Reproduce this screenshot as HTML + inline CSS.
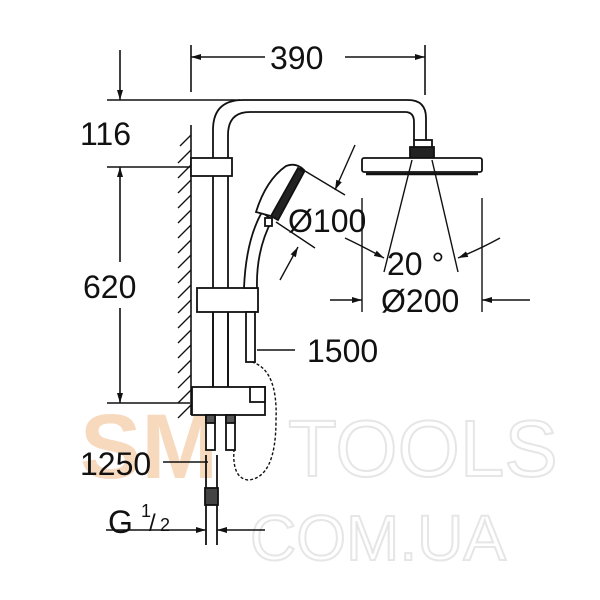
<!DOCTYPE html>
<html><head><meta charset="utf-8"><style>
html,body{margin:0;padding:0;background:#fff;width:600px;height:600px;overflow:hidden}
text{font-family:"Liberation Sans",sans-serif;fill:#111}
</style></head><body>
<svg width="600" height="600" viewBox="0 0 600 600" xmlns="http://www.w3.org/2000/svg">
<defs>
<marker id="a" viewBox="0 0 10 10" refX="10" refY="5" markerWidth="10" markerHeight="10" orient="auto-start-reverse" markerUnits="userSpaceOnUse"><path d="M0,2 L10,5 L0,8z" fill="#111"/></marker>
</defs>
<!-- watermark -->
<text x="80" y="478" font-size="92" font-weight="bold" style="fill:#f7d9bd">SM</text>
<text x="288" y="476" font-size="80" style="fill:none;stroke:#e6e6e6;stroke-width:2">TOOLS</text>
<text x="250" y="560" font-size="64" style="fill:none;stroke:#e6e6e6;stroke-width:2">COM.UA</text>

<g stroke="#111" stroke-width="1.6" fill="none">
<line x1="191" y1="45" x2="191" y2="92"/>
<line x1="425" y1="45" x2="425" y2="95"/>
<line x1="265" y1="57" x2="191" y2="57" marker-end="url(#a)"/>
<line x1="345" y1="57" x2="425" y2="57" marker-end="url(#a)"/>
<line x1="107" y1="100" x2="240" y2="100"/>
<line x1="120" y1="50" x2="120" y2="100" marker-end="url(#a)"/>
<line x1="107" y1="167" x2="190" y2="167"/>
<line x1="107" y1="403" x2="190" y2="403"/>
<line x1="120" y1="262" x2="120" y2="167" marker-end="url(#a)"/>
<line x1="120" y1="308" x2="120" y2="403" marker-end="url(#a)"/>
<line x1="191" y1="125" x2="191" y2="415"/>
</g>
<g stroke="#111" stroke-width="1.3">
<line x1="191" y1="135" x2="180" y2="146"/><line x1="191" y1="150" x2="178" y2="163"/>
<line x1="191" y1="165" x2="178" y2="178"/><line x1="191" y1="180" x2="178" y2="193"/>
<line x1="191" y1="195" x2="178" y2="208"/><line x1="191" y1="210" x2="178" y2="223"/>
<line x1="191" y1="225" x2="178" y2="238"/><line x1="191" y1="240" x2="178" y2="253"/>
<line x1="191" y1="255" x2="178" y2="268"/><line x1="191" y1="270" x2="178" y2="283"/>
<line x1="191" y1="285" x2="178" y2="298"/><line x1="191" y1="300" x2="178" y2="313"/>
<line x1="191" y1="315" x2="178" y2="328"/><line x1="191" y1="330" x2="178" y2="343"/>
<line x1="191" y1="345" x2="178" y2="358"/><line x1="191" y1="360" x2="178" y2="373"/>
<line x1="191" y1="375" x2="178" y2="388"/><line x1="191" y1="390" x2="178" y2="403"/>
<line x1="191" y1="405" x2="178" y2="418"/>
</g>
<g stroke="#111" stroke-width="1.8" fill="#fff">
<path d="M213,390 L213,130 Q213,100 243,100 L408,100 Q426,100 426,118 L426,140" fill="none"/>
<path d="M228,390 L228,135 Q228,112 250,112 L405,112 Q414,112 414,122 L414,140" fill="none"/>
<rect x="191" y="158" width="41" height="18"/>
<rect x="414" y="140" width="18" height="8" fill="#fff"/>
<rect x="410" y="147" width="24" height="11" fill="#222"/>
<rect x="362" y="158" width="120" height="14" rx="2"/>
<line x1="366" y1="174" x2="478" y2="174" stroke-width="2.5"/>
<rect x="197" y="288" width="61" height="24"/>
<line x1="213" y1="312" x2="213" y2="390" fill="none"/>
<line x1="228" y1="312" x2="228" y2="390" fill="none"/>
<path d="M244,288 Q246,240 262,212 L272,220 Q256,250 257,288 Z"/>
<path d="M256,212 Q266,180 286,166 Q296,162 304,170 L278,218 Z"/>
<path d="M298,168 L304,172 L278,220 L271,216 Z" fill="#222"/>
<rect x="265" y="218" width="7" height="8"/>
<rect x="246" y="312" width="9" height="50"/>
<path d="M252,362 Q278,370 276,420 Q276,478 248,480 Q232,478 234,450" fill="none" stroke-dasharray="3,2" stroke-width="1.4"/>
<rect x="192" y="387" width="73" height="28"/>
<rect x="250" y="387" width="15" height="15"/>
<rect x="206" y="415" width="9" height="35"/>
<rect x="226" y="415" width="9" height="35"/>
<rect x="206" y="415" width="9" height="8" fill="#555"/>
<rect x="226" y="415" width="9" height="8" fill="#555"/>
<line x1="206" y1="455" x2="206" y2="545" fill="none"/>
<line x1="217" y1="455" x2="217" y2="545" fill="none"/>
<rect x="205" y="488" width="13" height="17" fill="#444"/>
</g>
<g stroke="#111" stroke-width="1.4" fill="none">
<line x1="300" y1="168" x2="345" y2="195"/>
<line x1="276" y1="222" x2="315" y2="248"/>
<line x1="355" y1="145" x2="335" y2="190" marker-end="url(#a)"/>
<line x1="280" y1="280" x2="298" y2="247" marker-end="url(#a)"/>
<line x1="412" y1="160" x2="384" y2="272"/>
<line x1="432" y1="160" x2="458" y2="272"/>
<path d="M345,238 Q362,246 384,258" marker-end="url(#a)"/>
<path d="M500,238 Q482,248 458,258" marker-end="url(#a)"/>
<line x1="362" y1="198" x2="362" y2="312"/>
<line x1="482" y1="198" x2="482" y2="312"/>
<line x1="330" y1="300" x2="362" y2="300" marker-end="url(#a)"/>
<line x1="530" y1="300" x2="482" y2="300" marker-end="url(#a)"/>
<line x1="257" y1="350" x2="295" y2="350"/>
<line x1="163" y1="462" x2="208" y2="462"/>
<line x1="106" y1="530" x2="206" y2="530" marker-end="url(#a)"/>
<line x1="265" y1="530" x2="217" y2="530" marker-end="url(#a)"/>
</g>
<text x="270" y="69" font-size="32">390</text>
<text x="80" y="145" font-size="32">116</text>
<text x="83" y="298" font-size="32">620</text>
<text x="288" y="232" font-size="32">Ø100</text>
<text x="387" y="275" font-size="32">20 °</text>
<text x="381" y="312" font-size="32">Ø200</text>
<text x="307" y="362" font-size="32">1500</text>
<text x="80" y="475" font-size="32">1250</text>
<text x="108" y="533" font-size="32">G</text>
<text x="141" y="517" font-size="18">1</text>
<text x="149" y="531" font-size="24">/</text>
<text x="160" y="531" font-size="18">2</text>
</svg>
</body></html>
